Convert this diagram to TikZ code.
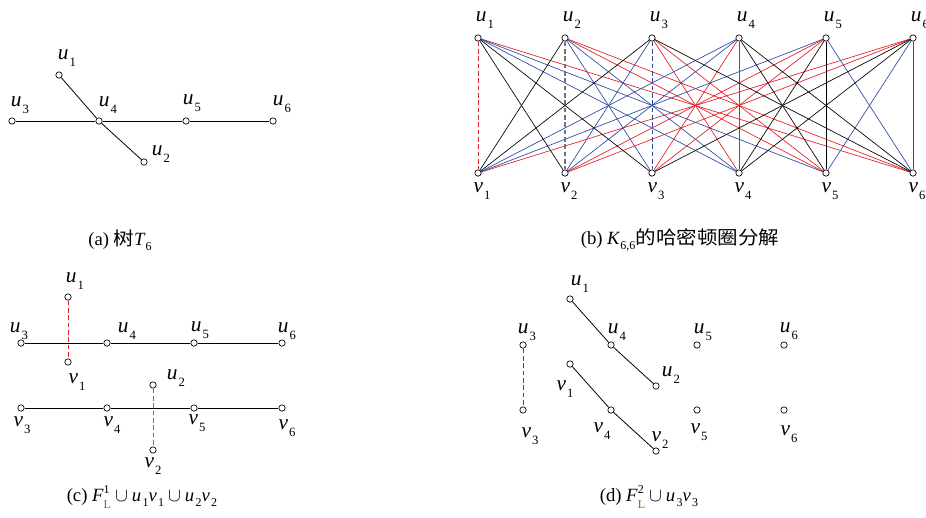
\documentclass[tikz,border=0pt]{standalone}
\usepackage{fontspec}
\setmainfont{Liberation Serif}
\newfontfamily\cjk{Noto Sans CJK SC}
\usetikzlibrary{backgrounds}
\definecolor{kred}{RGB}{228,30,36}
\definecolor{kblue}{RGB}{45,75,160}
\definecolor{kgray}{RGB}{115,115,115}
\definecolor{lolive}{RGB}{120,105,30}
\newcommand\lbv[2]{\textit{#1}\kern0.8pt\raisebox{-0.65ex}{\fontsize{9.5}{9.5}\selectfont #2}}
\newcommand\csub[1]{\raisebox{-0.6ex}{\fontsize{9}{9}\selectfont #1}}
\newcommand\cjkw[1]{\scalebox{1.1}[1]{\cjk #1}}
\newcommand\cupsp{\kern3pt$\cup$\kern3pt}
\begin{document}
\begin{tikzpicture}[x=0.75pt,y=-0.75pt,
  vtx/.style={circle,draw,fill=white,inner sep=0pt,minimum size=4.8pt,line width=0.5pt},
  lbl/.style={inner sep=0pt,font=\fontsize{16}{16}\selectfont},
  captxt/.style={inner sep=0pt,font=\fontsize{14}{14}\selectfont},
  plainedge/.style={line width=0.6pt},
  kedge/.style={line width=0.5pt},
  dsh/.style={dash pattern=on 3.5pt off 2pt, line width=0.6pt}]
\useasboundingbox (0,0) rectangle (926,518);

% ---------- (a) ----------
\node[vtx] (a1) at (59,75) {};
\node[vtx] (a3) at (12,121) {};
\node[vtx] (a4) at (99,121) {};
\node[vtx] (a5) at (186,121) {};
\node[vtx] (a6) at (273,121) {};
\node[vtx] (a2) at (144,162) {};
\begin{scope}[on background layer]
\draw[plainedge] (a1) -- (a4) -- (a2);
\draw[plainedge] (a3) -- (a4) -- (a5) -- (a6);
\end{scope}
\node[lbl] (la1) at (67,58) {\lbv{u}{1}};
\node[lbl] (la3) at (20,105) {\lbv{u}{3}};
\node[lbl] (la4) at (108,105) {\lbv{u}{4}};
\node[lbl] (la5) at (192,103) {\lbv{u}{5}};
\node[lbl] (la6) at (282,104) {\lbv{u}{6}};
\node[lbl] (la2) at (161,154) {\lbv{u}{2}};
\node[captxt] (capa) at (120,240) {(a) \cjkw{树}\textit{T}\csub{6}};

% ---------- (b) ----------
\foreach \i in {1,...,6}{
  \node[vtx] (bu\i) at ({478+87*(\i-1)},38) {};
  \node[vtx] (bv\i) at ({478+87*(\i-1)},173) {};
  \node[lbl] (lbu\i) at ({485+87*(\i-1)},20) {\lbv{u}{\i}};
  \node[lbl] (lbv\i) at ({482+87*(\i-1)},191) {\lbv{v}{\i}};
}
\begin{scope}[on background layer]
\foreach \a/\b in {1/6,2/5,2/6,3/4,3/5,4/3,4/4,5/2,5/3,6/1,6/2}
  \draw[kedge,kred] (bu\a) -- (bv\b);
\foreach \a/\b in {1/4,1/5,2/3,2/4,3/2,4/1,4/2,5/1,5/6,6/5,6/6}
  \draw[kedge,kblue] (bu\a) -- (bv\b);
\foreach \a/\b in {1/2,1/3,2/1,3/1,3/6,4/5,4/6,5/4,5/5,6/3,6/4}
  \draw[kedge,black] (bu\a) -- (bv\b);
\draw[dsh,kred] (bu1) -- (bv1);
\draw[dsh,kgray,line width=0.9pt] (bu2) -- (bv2);
\draw[dsh,kblue] (bu3) -- (bv3);
\end{scope}
\node[captxt] (capb) at (680,240) {(b) \textit{K}\csub{6,6}\cjkw{的哈密顿圈分解}};

% ---------- (c) ----------
\node[vtx] (c1) at (68,297) {};
\node[vtx] (c3) at (21,343) {};
\node[vtx] (c4) at (107,343) {};
\node[vtx] (c5) at (194,343) {};
\node[vtx] (c6) at (282,343) {};
\node[vtx] (cv1) at (68,362) {};
\node[vtx] (c2) at (153,385) {};
\node[vtx] (cv3) at (21,408) {};
\node[vtx] (cv4) at (107,408) {};
\node[vtx] (cv5) at (194,408) {};
\node[vtx] (cv6) at (282,408) {};
\node[vtx] (cv2) at (153,450) {};
\begin{scope}[on background layer]
\draw[plainedge] (c3) -- (c4) -- (c5) -- (c6);
\draw[plainedge] (cv3) -- (cv4) -- (cv5) -- (cv6);
\draw[dsh,kred] (c1) -- (cv1);
\draw[dsh,kgray] (c2) -- (cv2);
\end{scope}
\node[lbl] (lc1) at (75,281) {\lbv{u}{1}};
\node[lbl] (lc3) at (19,331) {\lbv{u}{3}};
\node[lbl] (lc4) at (127,331) {\lbv{u}{4}};
\node[lbl] (lc5) at (200,330) {\lbv{u}{5}};
\node[lbl] (lc6) at (287,331) {\lbv{u}{6}};
\node[lbl] (lcv1) at (77,382) {\lbv{v}{1}};
\node[lbl] (lc2) at (176,378) {\lbv{u}{2}};
\node[lbl] (lcv3) at (22,425) {\lbv{v}{3}};
\node[lbl] (lcv4) at (112,425) {\lbv{v}{4}};
\node[lbl] (lcv5) at (197,423) {\lbv{v}{5}};
\node[lbl] (lcv6) at (287,428) {\lbv{v}{6}};
\node[lbl] (lcv2) at (153,466) {\lbv{v}{2}};
\node[captxt] (capc) at (142,497) {(c) \textit{F}\rlap{\raisebox{0.95ex}{\fontsize{9}{9}\selectfont 1}}\raisebox{-0.75ex}{\fontsize{9}{9}\selectfont\color{lolive}L}\cupsp\textit{u}\kern1pt\csub{1}\textit{v}\kern1pt\csub{1}\cupsp\textit{u}\kern1pt\csub{2}\textit{v}\kern1pt\csub{2}};

% ---------- (d) ----------
\node[vtx] (d1) at (570,299) {};
\node[vtx] (d3) at (523,345) {};
\node[vtx] (d4) at (611,345) {};
\node[vtx] (d5) at (697,345) {};
\node[vtx] (d6) at (784,345) {};
\node[vtx] (dv1) at (570,364) {};
\node[vtx] (d2) at (656,386) {};
\node[vtx] (dv3) at (523,410) {};
\node[vtx] (dv4) at (611,410) {};
\node[vtx] (dv5) at (697,410) {};
\node[vtx] (dv6) at (784,410) {};
\node[vtx] (dv2) at (656,451) {};
\begin{scope}[on background layer]
\draw[plainedge] (d1) -- (d4) -- (d2);
\draw[plainedge] (dv1) -- (dv4) -- (dv2);
\draw[dsh,kblue] (d3) -- (dv3);
\end{scope}
\node[lbl] (ld1) at (580,284) {\lbv{u}{1}};
\node[lbl] (ld3) at (527,332) {\lbv{u}{3}};
\node[lbl] (ld4) at (617,332) {\lbv{u}{4}};
\node[lbl] (ld5) at (703,332) {\lbv{u}{5}};
\node[lbl] (ld6) at (789,331) {\lbv{u}{6}};
\node[lbl] (ld2) at (671,375) {\lbv{u}{2}};
\node[lbl] (ldv1) at (565,389) {\lbv{v}{1}};
\node[lbl] (ldv3) at (530,436) {\lbv{v}{3}};
\node[lbl] (ldv4) at (602,431) {\lbv{v}{4}};
\node[lbl] (ldv5) at (699,432) {\lbv{v}{5}};
\node[lbl] (ldv6) at (789,434) {\lbv{v}{6}};
\node[lbl] (ldv2) at (660,440) {\lbv{v}{2}};
\node[captxt] (capd) at (649,497) {(d) \textit{F}\rlap{\raisebox{0.95ex}{\fontsize{9}{9}\selectfont 2}}\raisebox{-0.75ex}{\fontsize{9}{9}\selectfont\color{lolive}L}\cupsp\textit{u}\kern1pt\csub{3}\textit{v}\kern1pt\csub{3}};
\end{tikzpicture}
\end{document}
